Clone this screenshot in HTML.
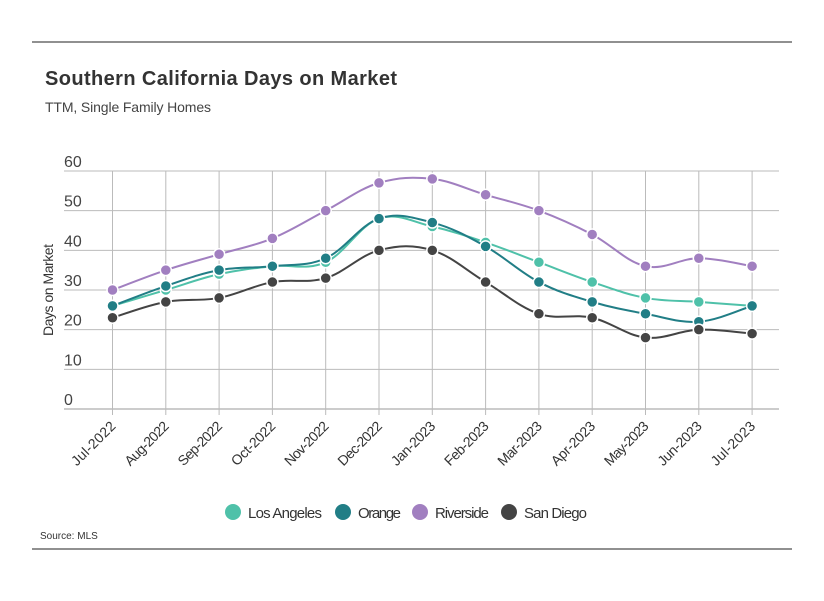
<!DOCTYPE html>
<html><head><meta charset="utf-8"><style>
body{margin:0;background:#fff;font-family:"Liberation Sans",sans-serif;}
svg text{font-family:"Liberation Sans",sans-serif;}
</style></head><body>
<svg id="c" width="824" height="596" xmlns="http://www.w3.org/2000/svg">
<line x1="32" y1="42" x2="792" y2="42" stroke="#222" stroke-width="1"/>
<line x1="32" y1="549" x2="792" y2="549" stroke="#222" stroke-width="1"/>
<text x="45" y="85" font-size="20" font-weight="bold" fill="#333" textLength="352">Southern California Days on Market</text>
<text x="45" y="112" font-size="14" fill="#444" textLength="166">TTM, Single Family Homes</text>
<text transform="translate(53,290) rotate(-90)" text-anchor="middle" font-size="14" fill="#333" textLength="92">Days on Market</text>
<text x="40" y="539" font-size="10" fill="#333">Source: MLS</text>
<g id="grid"></g><g id="series"></g><g id="legend"></g>
</svg>
<script>
const categories=["Jul-2022","Aug-2022","Sep-2022","Oct-2022","Nov-2022","Dec-2022","Jan-2023","Feb-2023","Mar-2023","Apr-2023","May-2023","Jun-2023","Jul-2023"];
const yTicks=[0,10,20,30,40,50,60];
const seriesNames=["Los Angeles","Orange","Riverside","San Diego"];
const seriesColors=["#4fc1a9","#217e86","#a17fc0","#444444"];
const laValues=[26,30,34,36,37,48,46,42,37,32,28,27,26];
const orangeValues=[26,31,35,36,38,48,47,41,32,27,24,22,26];
const riversideValues=[30,35,39,43,50,57,58,54,50,44,36,38,36];
const sanDiegoValues=[23,27,28,32,33,40,40,32,24,23,18,20,19];
const allValues=[laValues,orangeValues,riversideValues,sanDiegoValues];
const NS="http://www.w3.org/2000/svg";
const x=i=>112.5+i*53.3;
const y=v=>409-v*3.967;
function mk(t,a,p){const e=document.createElementNS(NS,t);for(const k in a)e.setAttribute(k,a[k]);p.appendChild(e);return e;}
const grid=document.getElementById('grid');
yTicks.forEach(v=>{
 const l=mk('line',{x1:64,x2:779,y1:y(v),y2:y(v),stroke:v===0?'#999':'#bbb','stroke-width':1},grid);
 
 
 const t=mk('text',{x:64,y:y(v)-4,'font-size':16,fill:'#444'},grid);t.textContent=v;
 
 
});
categories.forEach((c,i)=>{
 const l=mk('line',{x1:x(i),x2:x(i),y1:y(60),y2:y(0)+6,stroke:'#bbb','stroke-width':1},grid);
 
 
 const t=mk('text',{transform:`translate(${x(i)+4},${y(0)+18}) rotate(-45)`,'text-anchor':'end','font-size':14,fill:'#333',textLength:56},grid);t.textContent=c;
 
 
});
function path(pts){let d=`M${pts[0][0]},${pts[0][1]}`;const k=0.18;
 for(let i=0;i<pts.length-1;i++){const p0=pts[Math.max(i-1,0)],p1=pts[i],p2=pts[i+1],p3=pts[Math.min(i+2,pts.length-1)];
 d+=` C${p1[0]+(p2[0]-p0[0])*k},${p1[1]+(p2[1]-p0[1])*k} ${p2[0]-(p3[0]-p1[0])*k},${p2[1]-(p3[1]-p1[1])*k} ${p2[0]},${p2[1]}`;}return d;}
const sg=document.getElementById('series');
[2,0,1,3].forEach(s=>{
 const vals=allValues[s];const pts=vals.map((v,i)=>[x(i),y(v)]);
 const g=mk('g',{},sg);
 
 
 const p=mk('path',{d:path(pts),fill:'none',stroke:seriesColors[s],'stroke-width':2},g);
 
 
 pts.forEach(q=>{const c=mk('circle',{cx:q[0],cy:q[1],r:5.5,fill:seriesColors[s],stroke:'#fff','stroke-width':1.5},g);
  
  });
});
const lg=document.getElementById('legend');
const legX=[233,343,420,509];
const legW=[74,43,54,63];
seriesNames.forEach((n,i)=>{
 const g=mk('g',{},lg);
 
 
 mk('circle',{cx:legX[i],cy:512,r:8,fill:seriesColors[i]},g);
 const t=mk('text',{x:legX[i]+15,y:518,'font-size':15,fill:'#333',textLength:legW[i]},g);t.textContent=n;
});
</script>
</body></html>
